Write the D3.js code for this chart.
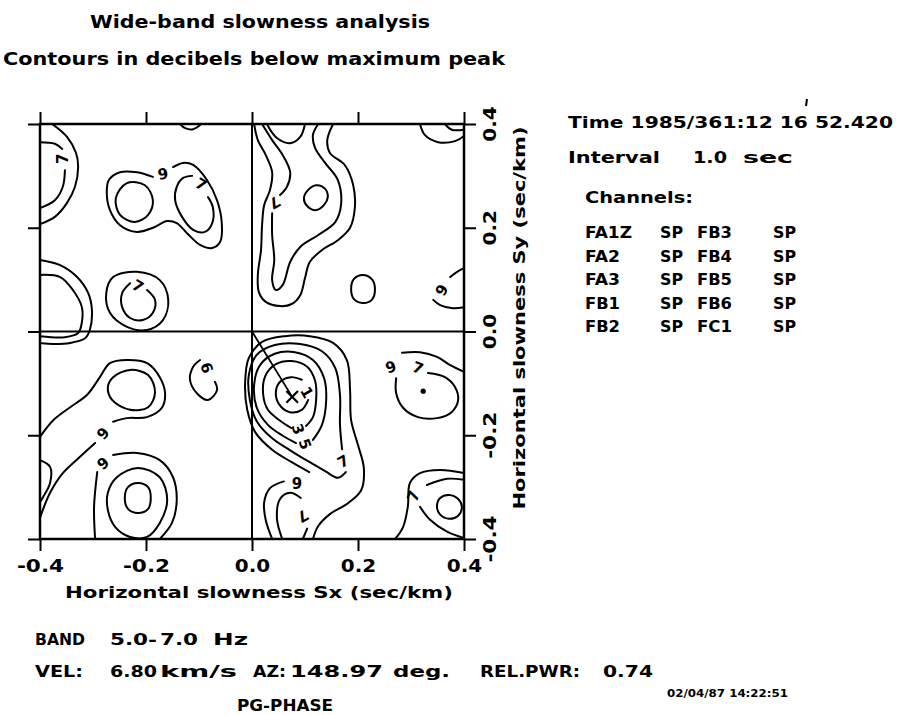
<!DOCTYPE html>
<html><head><meta charset="utf-8">
<script src="https://cdn.jsdelivr.net/npm/d3@7"></script>
<style>
body{margin:0;background:#fff;}
svg text{font-family:"DejaVu Sans",sans-serif;font-weight:bold;fill:#000;}
</style></head><body>
<svg id="chart" width="901" height="715"></svg>
<script>
// ---------- data ----------
const xTicks = [-0.4, -0.2, 0.0, 0.2, 0.4];
const yTicks = [-0.4, -0.2, 0.0, 0.2, 0.4];

const velocity = 6.80;      // km/s
const azimuth = 148.97;     // deg
const relPower = 0.74;
const band = [5.0, 7.0];    // Hz
const intervalSec = 1.0;
const timeStamp = "1985/361:12 16 52.420";
const phaseName = "PG-PHASE";
const plotDate = "02/04/87 14:22:51";

const channelRows = [
  ["FA1Z", "SP", "FB3", "SP"],
  ["FA2", "SP", "FB4", "SP"],
  ["FA3", "SP", "FB5", "SP"],
  ["FB1", "SP", "FB6", "SP"],
  ["FB2", "SP", "FC1", "SP"]
];

// contour lines in slowness units (Sx, Sy), dB below maximum
const contours = [
  // Sx < 0, Sy > 0
  {level: 9, closed: false, pts: [[-0.377,0.400],[-0.349,0.375],[-0.332,0.344],[-0.328,0.317],[-0.334,0.279],[-0.349,0.248],[-0.372,0.221],[-0.400,0.207]]},
  {level: 7, closed: false, pts: [[-0.400,0.365],[-0.372,0.362],[-0.358,0.352]]},
  {level: 7, closed: false, pts: [[-0.353,0.311],[-0.357,0.279],[-0.372,0.253],[-0.400,0.238]]},
  {level: 9, closed: false, pts: [[-0.187,0.298],[-0.217,0.307],[-0.249,0.307],[-0.270,0.292],[-0.274,0.267],[-0.268,0.234],[-0.249,0.205],[-0.217,0.192],[-0.187,0.200],[-0.160,0.213],[-0.142,0.209],[-0.123,0.190],[-0.098,0.167],[-0.075,0.161],[-0.060,0.173],[-0.057,0.209],[-0.066,0.253],[-0.085,0.292],[-0.111,0.321],[-0.130,0.325],[-0.149,0.317]]},
  {level: 7, closed: true, pts: [[-0.236,0.286],[-0.202,0.282],[-0.187,0.253],[-0.196,0.225],[-0.221,0.211],[-0.249,0.225],[-0.257,0.257]]},
  {level: 7, closed: false, pts: [[-0.083,0.259],[-0.074,0.240],[-0.075,0.209],[-0.089,0.192],[-0.111,0.196],[-0.132,0.221],[-0.145,0.253],[-0.142,0.279],[-0.130,0.296],[-0.113,0.300]]},
  {level: 9, closed: false, pts: [[-0.136,0.400],[-0.126,0.392],[-0.111,0.390],[-0.098,0.398]]},
  {level: 9, closed: false, pts: [[-0.400,0.138],[-0.362,0.128],[-0.330,0.105],[-0.309,0.074],[-0.302,0.041],[-0.306,0.003],[-0.315,-0.013],[-0.343,-0.022],[-0.372,-0.024],[-0.400,-0.022]]},
  {level: 7, closed: false, pts: [[-0.400,0.109],[-0.362,0.105],[-0.338,0.080],[-0.321,0.047],[-0.321,0.018],[-0.328,-0.003],[-0.353,-0.011],[-0.400,-0.009]]},
  {level: 9, closed: true, pts: [[-0.262,0.105],[-0.217,0.115],[-0.174,0.099],[-0.158,0.061],[-0.168,0.022],[-0.198,0.003],[-0.236,0.009],[-0.268,0.036],[-0.275,0.074]]},
  {level: 7, closed: false, pts: [[-0.198,0.080],[-0.183,0.061],[-0.187,0.036],[-0.206,0.022],[-0.230,0.026],[-0.245,0.047],[-0.245,0.074],[-0.230,0.093]]},
  // Sx > 0, Sy > 0
  {level: 9, closed: false, pts: [[0.028,0.400],[0.047,0.373],[0.072,0.363],[0.091,0.375],[0.100,0.400]]},
  {level: 9, closed: false, pts: [[0.004,0.400],[0.011,0.369],[0.026,0.340],[0.038,0.307],[0.034,0.273],[0.023,0.244],[0.019,0.205],[0.017,0.157],[0.011,0.109],[0.013,0.076],[0.026,0.057],[0.053,0.049],[0.075,0.053],[0.091,0.070],[0.100,0.103],[0.109,0.134],[0.132,0.157],[0.162,0.176],[0.185,0.200],[0.194,0.238],[0.191,0.282],[0.175,0.321],[0.147,0.344],[0.142,0.369],[0.153,0.400]]},
  {level: 7, closed: false, pts: [[0.019,0.400],[0.038,0.369],[0.058,0.340],[0.072,0.307],[0.066,0.279],[0.053,0.263]]},
  {level: 7, closed: false, pts: [[0.038,0.228],[0.038,0.186],[0.042,0.138],[0.038,0.099],[0.045,0.080],[0.058,0.090],[0.072,0.134],[0.091,0.163],[0.125,0.186],[0.157,0.211],[0.168,0.244],[0.162,0.292],[0.138,0.325],[0.119,0.354],[0.115,0.379],[0.125,0.400]]},
  {level: 5, closed: true, pts: [[0.121,0.282],[0.138,0.275],[0.143,0.259],[0.136,0.244],[0.121,0.234],[0.104,0.242],[0.098,0.257],[0.106,0.273]]},
  {level: 9, closed: false, pts: [[0.317,0.400],[0.326,0.379],[0.351,0.365],[0.383,0.367],[0.400,0.377]]},
  {level: 7, closed: false, pts: [[0.364,0.400],[0.377,0.389],[0.400,0.389]]},
  {level: 9, closed: true, pts: [[0.209,0.109],[0.226,0.101],[0.232,0.082],[0.226,0.061],[0.209,0.055],[0.192,0.063],[0.187,0.082],[0.192,0.101]]},
  {level: 9, closed: false, pts: [[0.400,0.122],[0.387,0.115],[0.374,0.105]]},
  {level: 9, closed: false, pts: [[0.342,0.061],[0.355,0.051],[0.379,0.045],[0.400,0.047]]},
  // Sx < 0, Sy < 0
  {level: 9, closed: false, pts: [[-0.400,-0.203],[-0.375,-0.171],[-0.343,-0.146],[-0.311,-0.122],[-0.287,-0.088],[-0.268,-0.061],[-0.236,-0.055],[-0.198,-0.061],[-0.174,-0.088],[-0.164,-0.119],[-0.170,-0.147],[-0.198,-0.165],[-0.236,-0.167],[-0.262,-0.174]]},
  {level: 9, closed: false, pts: [[-0.296,-0.215],[-0.325,-0.242],[-0.357,-0.273],[-0.381,-0.311],[-0.400,-0.359]]},
  {level: 7, closed: true, pts: [[-0.262,-0.088],[-0.230,-0.074],[-0.196,-0.084],[-0.183,-0.117],[-0.196,-0.146],[-0.230,-0.151],[-0.264,-0.132],[-0.272,-0.107]]},
  {level: 9, closed: false, pts: [[-0.400,-0.248],[-0.381,-0.261],[-0.381,-0.292],[-0.394,-0.319],[-0.400,-0.329]]},
  {level: 9, closed: false, pts: [[-0.098,-0.055],[-0.111,-0.068],[-0.117,-0.093],[-0.104,-0.119],[-0.083,-0.132],[-0.066,-0.113],[-0.070,-0.097]]},
  {level: 9, closed: false, pts: [[-0.262,-0.238],[-0.217,-0.234],[-0.174,-0.248],[-0.149,-0.281],[-0.142,-0.325],[-0.151,-0.369],[-0.174,-0.400]]},
  {level: 9, closed: false, pts: [[-0.292,-0.271],[-0.298,-0.338],[-0.296,-0.400]]},
  {level: 7, closed: true, pts: [[-0.272,-0.311],[-0.255,-0.281],[-0.215,-0.263],[-0.174,-0.281],[-0.160,-0.325],[-0.174,-0.369],[-0.198,-0.396],[-0.230,-0.396],[-0.258,-0.377],[-0.272,-0.344]]},
  {level: 5, closed: true, pts: [[-0.215,-0.292],[-0.196,-0.300],[-0.191,-0.321],[-0.196,-0.342],[-0.215,-0.350],[-0.234,-0.342],[-0.240,-0.321],[-0.234,-0.300]]},
  // Sx > 0, Sy < 0 : main peak
  {level: 1, closed: false, pts: [[0.106,-0.132],[0.094,-0.151],[0.070,-0.155],[0.051,-0.140],[0.045,-0.117],[0.053,-0.097],[0.074,-0.088],[0.094,-0.093]]},
  {level: 3, closed: false, pts: [[0.074,-0.186],[0.053,-0.172],[0.030,-0.151],[0.021,-0.121],[0.025,-0.086],[0.045,-0.063],[0.075,-0.057],[0.104,-0.068],[0.119,-0.095],[0.121,-0.132],[0.115,-0.165],[0.102,-0.182]]},
  {level: 5, closed: false, pts: [[0.083,-0.215],[0.058,-0.201],[0.030,-0.180],[0.009,-0.147],[0.004,-0.103],[0.015,-0.065],[0.043,-0.043],[0.081,-0.040],[0.115,-0.055],[0.136,-0.090],[0.140,-0.132],[0.132,-0.180],[0.115,-0.209]]},
  {level: 7, closed: false, pts: [[0.177,-0.271],[0.162,-0.282],[0.138,-0.269],[0.109,-0.252],[0.072,-0.229],[0.038,-0.206],[0.009,-0.173],[-0.004,-0.132],[-0.006,-0.084],[0.009,-0.045],[0.043,-0.026],[0.091,-0.024],[0.132,-0.038],[0.157,-0.070],[0.166,-0.122],[0.166,-0.180],[0.170,-0.227]]},
  {level: 9, closed: false, pts: [[0.038,-0.400],[0.026,-0.364],[0.023,-0.329],[0.034,-0.302],[0.060,-0.289]]},
  {level: 9, closed: false, pts: [[0.108,-0.271],[0.075,-0.252],[0.038,-0.228],[0.006,-0.194],[-0.009,-0.151],[-0.013,-0.099],[-0.006,-0.051],[0.019,-0.020],[0.062,-0.009],[0.109,-0.009],[0.153,-0.022],[0.179,-0.055],[0.185,-0.113],[0.187,-0.171],[0.200,-0.219],[0.211,-0.263],[0.206,-0.306],[0.181,-0.331],[0.147,-0.352],[0.125,-0.375],[0.115,-0.400]]},
  {level: 7, closed: false, pts: [[0.057,-0.400],[0.047,-0.360],[0.053,-0.323],[0.072,-0.311],[0.092,-0.321]]},
  {level: 7, closed: false, pts: [[0.104,-0.380],[0.096,-0.400]]},
  // Sx > 0, Sy < 0 : secondary peaks
  {level: 9, closed: false, pts: [[0.400,-0.078],[0.374,-0.065],[0.349,-0.049],[0.317,-0.040],[0.283,-0.041]]},
  {level: 7, closed: false, pts: [[0.332,-0.080],[0.364,-0.088],[0.383,-0.107],[0.389,-0.132],[0.377,-0.155],[0.349,-0.167],[0.313,-0.165],[0.285,-0.147],[0.272,-0.119],[0.272,-0.090]]},
  {level: 9, closed: false, pts: [[0.270,-0.400],[0.285,-0.377],[0.294,-0.338],[0.298,-0.292],[0.317,-0.273],[0.355,-0.267],[0.400,-0.273]]},
  {level: 7, closed: false, pts: [[0.330,-0.296],[0.368,-0.284],[0.400,-0.286]]},
  {level: 7, closed: false, pts: [[0.317,-0.338],[0.336,-0.363],[0.368,-0.386],[0.400,-0.398]]},
  {level: 5, closed: true, pts: [[0.372,-0.315],[0.389,-0.323],[0.396,-0.338],[0.389,-0.355],[0.372,-0.361],[0.355,-0.353],[0.349,-0.338],[0.355,-0.321]]}
];

// level labels written on the contours: [text, Sx, Sy]
const contourLabels = [
  ["7", -0.357, 0.333], ["9", -0.168, 0.304], ["7", -0.096, 0.284], ["7", -0.215, 0.088],
  ["7", 0.043, 0.248], ["9", 0.358, 0.080],
  ["9", -0.281, -0.196], ["9", -0.085, -0.070], ["9", -0.281, -0.254],
  ["1", 0.104, -0.117], ["3", 0.087, -0.188], ["5", 0.100, -0.217], ["7", 0.172, -0.250],
  ["9", 0.085, -0.294], ["7", 0.096, -0.356], ["9", 0.262, -0.068], ["7", 0.313, -0.070],
  ["7", 0.304, -0.317]
];
const labelAngles = [-90, -10, 30, 30, 150, -60, -50, -110, -40, 60, 70, 70, -30, 0, 150, -20, 20, -70];

// local maximum marked without a contour
const secondaryPeaks = [[0.323, -0.115]];

// ---------- drawing ----------
const svg = d3.select("#chart");
const x = d3.scaleLinear().domain([-0.4, 0.4]).range([40, 464]);
const y = d3.scaleLinear().domain([-0.4, 0.4]).range([539, 124]);
const fmt = d => d.toFixed(1);

// frame and axes
function styleAxis(g) {
  g.select(".domain").remove();
  g.selectAll(".tick line").attr("stroke", "#000").attr("stroke-width", 2);
  g.attr("font-size", 18).attr("font-family", null);
}
svg.append("g").attr("transform", `translate(0,${y(-0.4)})`)
  .call(d3.axisBottom(x).tickValues(xTicks).tickSize(12).tickSizeOuter(0).tickPadding(8).tickFormat(fmt))
  .call(styleAxis)
  .selectAll("text").attr("textLength", d => fmt(d).length * 11.8).attr("lengthAdjust", "spacingAndGlyphs");
svg.append("g").attr("transform", `translate(0,${y(0.4)})`)
  .call(d3.axisTop(x).tickValues(xTicks).tickSize(12).tickSizeOuter(0).tickFormat(""))
  .call(styleAxis);
svg.append("g").attr("transform", `translate(${x(-0.4)},0)`)
  .call(d3.axisLeft(y).tickValues(yTicks).tickSize(12).tickSizeOuter(0).tickFormat(""))
  .call(styleAxis);
svg.append("g").attr("transform", `translate(${x(0.4)},0)`)
  .call(d3.axisRight(y).tickValues(yTicks).tickSize(12).tickSizeOuter(0).tickFormat(""))
  .call(styleAxis);

// rotated Sy tick labels on the right
svg.append("g").selectAll("text").data(yTicks).join("text")
  .attr("transform", d => `translate(490,${y(d)}) rotate(-90)`)
  .attr("text-anchor", "middle").attr("dy", "0.36em")
  .attr("font-size", 18)
  .attr("textLength", d => fmt(d).length * 11.8).attr("lengthAdjust", "spacingAndGlyphs")
  .text(fmt);

svg.append("rect")
  .attr("x", x(-0.4)).attr("y", y(0.4))
  .attr("width", x(0.4) - x(-0.4)).attr("height", y(-0.4) - y(0.4))
  .attr("fill", "none").attr("stroke", "#000").attr("stroke-width", 2.5);
svg.append("line").attr("x1", x(0)).attr("x2", x(0)).attr("y1", y(0.4)).attr("y2", y(-0.4))
  .attr("stroke", "#000").attr("stroke-width", 2);
svg.append("line").attr("x1", x(-0.4)).attr("x2", x(0.4)).attr("y1", y(0)).attr("y2", y(0))
  .attr("stroke", "#000").attr("stroke-width", 2);

// contours
svg.append("clipPath").attr("id", "plotClip").append("rect")
  .attr("x", x(-0.4)).attr("y", y(0.4))
  .attr("width", x(0.4) - x(-0.4)).attr("height", y(-0.4) - y(0.4));
const plot = svg.append("g").attr("clip-path", "url(#plotClip)");
const openLine = d3.line().x(d => x(d[0])).y(d => y(d[1])).curve(d3.curveCatmullRom);
const closedLine = d3.line().x(d => x(d[0])).y(d => y(d[1])).curve(d3.curveCatmullRomClosed);
plot.selectAll("path.contour").data(contours).join("path")
  .attr("class", "contour")
  .attr("d", c => (c.closed ? closedLine : openLine)(c.pts))
  .attr("fill", "none").attr("stroke", "#000").attr("stroke-width", 2)
  .attr("stroke-linejoin", "round").attr("stroke-linecap", "round");

svg.append("g").selectAll("text").data(contourLabels).join("text")
  .attr("transform", (d, i) => `translate(${x(d[1])},${y(d[2])}) rotate(${labelAngles[i]})`)
  .attr("text-anchor", "middle").attr("dy", "0.36em")
  .attr("font-size", 15)
  .text(d => d[0]);

// beam direction: slowness vector from velocity and azimuth
const rad = azimuth * Math.PI / 180;
const peak = [Math.sin(rad) / velocity, Math.cos(rad) / velocity];
svg.append("line")
  .attr("x1", x(0)).attr("y1", y(0)).attr("x2", x(peak[0])).attr("y2", y(peak[1]))
  .attr("stroke", "#000").attr("stroke-width", 1.8);
svg.append("path")
  .attr("transform", `translate(${x(peak[0])},${y(peak[1])})`)
  .attr("d", d3.symbol().type(d3.symbolX).size(90)())
  .attr("fill", "none").attr("stroke", "#000").attr("stroke-width", 2.2);
svg.append("g").selectAll("circle").data(secondaryPeaks).join("circle")
  .attr("cx", d => x(d[0])).attr("cy", d => y(d[1])).attr("r", 2.6).attr("fill", "#000");

// titles and annotation text
function txt(str, px, py, size, len) {
  const t = svg.append("text").attr("x", px).attr("y", py).attr("font-size", size).text(str);
  if (len) t.attr("textLength", len).attr("lengthAdjust", "spacingAndGlyphs");
  return t;
}
txt("Wide-band slowness analysis", 90, 28, 17, 340);
txt("Contours in decibels below maximum peak", 3, 65, 17, 502);
txt("Horizontal slowness Sx (sec/km)", 65, 598, 16, 388);
svg.append("text")
  .attr("transform", "translate(525,318) rotate(-90)")
  .attr("text-anchor", "middle").attr("font-size", 16)
  .attr("textLength", 383).attr("lengthAdjust", "spacingAndGlyphs")
  .text("Horizontal slowness Sy (sec/km)");

txt("Time " + timeStamp, 568, 128, 16, 325);
svg.append("line").attr("x1", 807).attr("y1", 99).attr("x2", 806).attr("y2", 106)
  .attr("stroke", "#000").attr("stroke-width", 2);
txt("Interval", 568, 163, 16, 92);
txt(intervalSec.toFixed(1), 693, 163, 16, 34);
txt("sec", 743, 163, 16, 50);
txt("Channels:", 585, 203, 16, 108);
const colX = [585, 660, 697, 773];
channelRows.forEach((row, r) => {
  row.forEach((cell, c) => txt(cell, colX[c], 238 + r * 23.5, 16, cell.length * 12 - 1));
});

txt("BAND", 35, 645, 16, 50);
txt(band[0].toFixed(1) + "-", 110, 645, 16, 47);
txt(band[1].toFixed(1), 160, 645, 16, 38);
txt("Hz", 213, 645, 16, 35);
txt("VEL:", 35, 677, 16, 48);
txt(velocity.toFixed(2), 110, 677, 16, 47);
txt("km/s", 160, 677, 16, 77);
txt("AZ:", 253, 677, 16, 33);
txt(azimuth.toFixed(2), 290, 677, 16, 93);
txt("deg.", 393, 677, 16, 57);
txt("REL.PWR:", 480, 677, 16, 100);
txt(relPower.toFixed(2), 603, 677, 16, 50);
txt(phaseName, 237, 711, 16, 96);
txt(plotDate, 667, 697, 11, 121);
</script>
</body></html>
